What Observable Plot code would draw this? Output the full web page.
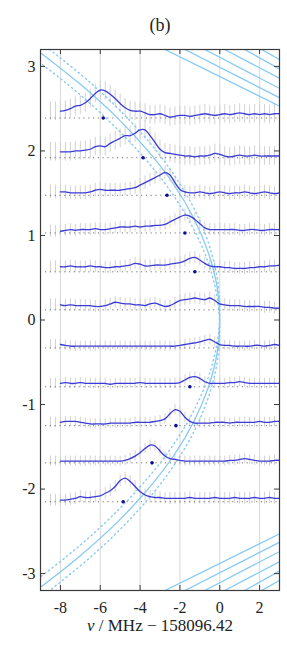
<!DOCTYPE html>
<html><head><meta charset="utf-8">
<script src="https://cdn.jsdelivr.net/npm/d3@7"></script>
<script src="https://cdn.jsdelivr.net/npm/@observablehq/plot@0.6"></script>
<style>body{margin:0;background:#fff} svg text{font-family:'Liberation Serif','DejaVu Serif',serif}</style>
</head><body><div id="chart"></div>
<script>
const title = "(b)";
const xLabel = "ν / MHz − 158096.42";
const xTicks = [-8, -6, -4, -2, 0, 2];
const yTicks = [-3, -2, -1, 0, 1, 2, 3];

const xGrid = [-8.5,-8.25,-8,-7.75,-7.5,-7.25,-7,-6.75,-6.5,-6.25,-6,-5.75,-5.5,-5.25,-5,-4.75,-4.5,-4.25,-4,-3.75,-3.5,-3.25,-3,-2.75,-2.5,-2.25,-2,-1.75,-1.5,-1.25,-1,-0.75,-0.5,-0.25,0,0.25,0.5,0.75,1,1.25,1.5,1.75,2,2.25,2.5,2.75,3];

const baselines = [2.39, 1.92, 1.475, 1.03, 0.57, 0.12, -0.33, -0.79, -1.25, -1.69, -2.15];
const errHalf = [0.11, 0.11, 0.08, 0.07, 0.07, 0.07, 0.06, 0.06, 0.06, 0.06, 0.07];

const trace1 = [0.08,0.08,0.08,0.09,0.11,0.14,0.15,0.18,0.23,0.29,0.33,0.32,0.28,0.23,0.17,0.12,0.09,0.08,0.08,0.06,0.04,0.04,0.05,0.03,0.01,0.02,0.03,0.03,0.02,0.03,0.04,0.05,0.04,0.03,0.04,0.05,0.04,0.05,0.06,0.05,0.04,0.05,0.04,0.05,0.04,0.05,0.05];
const trace2 = [0.07,0.07,0.07,0.07,0.07,0.08,0.08,0.09,0.1,0.13,0.14,0.13,0.17,0.2,0.23,0.26,0.26,0.29,0.33,0.33,0.26,0.18,0.1,0.06,0.05,0.04,0.03,0.02,0.02,0.01,0.02,0.02,0.03,0.05,0.04,0.02,0.01,0.02,0.03,0.02,0.02,0.03,0.02,0.02,0.02,0.02,0.02];
const trace3 = [0.04,0.04,0.04,0.04,0.03,0.03,0.03,0.03,0.04,0.06,0.07,0.06,0.06,0.06,0.06,0.07,0.08,0.09,0.12,0.15,0.18,0.21,0.24,0.27,0.24,0.15,0.07,0.04,0.03,0.03,0.04,0.03,0.02,0.03,0.04,0.03,0.02,0.03,0.03,0.04,0.03,0.02,0.03,0.04,0.03,0.02,0.03];
const trace4 = [0.02,0.02,0.02,0.03,0.04,0.03,0.04,0.04,0.04,0.05,0.04,0.04,0.05,0.06,0.07,0.07,0.07,0.08,0.07,0.08,0.08,0.09,0.09,0.1,0.13,0.16,0.19,0.21,0.2,0.16,0.11,0.06,0.04,0.04,0.04,0.04,0.04,0.04,0.03,0.03,0.04,0.04,0.03,0.03,0.04,0.04,0.04];
const trace5 = [0.06,0.06,0.06,0.06,0.07,0.06,0.06,0.06,0.07,0.06,0.06,0.05,0.05,0.06,0.06,0.07,0.08,0.1,0.09,0.07,0.07,0.08,0.08,0.08,0.09,0.1,0.11,0.13,0.16,0.17,0.14,0.1,0.07,0.06,0.06,0.05,0.05,0.04,0.04,0.04,0.05,0.05,0.06,0.06,0.07,0.07,0.08];
const trace6 = [0.06,0.06,0.06,0.05,0.06,0.05,0.05,0.05,0.05,0.04,0.04,0.05,0.07,0.09,0.08,0.07,0.07,0.06,0.06,0.05,0.07,0.08,0.06,0.04,0.05,0.08,0.11,0.12,0.13,0.14,0.13,0.12,0.14,0.11,0.07,0.06,0.05,0.05,0.05,0.04,0.04,0.04,0.04,0.03,0.03,0.02,0.02];
const trace7 = [0.04,0.04,0.04,0.03,0.02,0.02,0.02,0.02,0.02,0.02,0.02,0.02,0.02,0.02,0.02,0.02,0.02,0.02,0.02,0.02,0.02,0.02,0.02,0.02,0.02,0.02,0.03,0.04,0.05,0.06,0.07,0.09,0.1,0.07,0.04,0.03,0.03,0.02,0.02,0.02,0.02,0.03,0.03,0.02,0.03,0.04,0.03];
const trace8 = [0.04,0.04,0.04,0.05,0.04,0.04,0.05,0.04,0.04,0.04,0.04,0.04,0.03,0.04,0.04,0.04,0.04,0.04,0.05,0.04,0.04,0.04,0.04,0.04,0.04,0.04,0.05,0.08,0.11,0.12,0.1,0.06,0.04,0.04,0.04,0.04,0.05,0.05,0.06,0.05,0.04,0.04,0.04,0.04,0.04,0.04,0.04];
const trace9 = [0.04,0.04,0.04,0.05,0.05,0.05,0.04,0.03,0.02,0.02,0.02,0.02,0.03,0.03,0.03,0.03,0.03,0.04,0.04,0.04,0.04,0.05,0.06,0.08,0.14,0.19,0.17,0.1,0.05,0.03,0.03,0.03,0.03,0.04,0.04,0.04,0.03,0.04,0.04,0.04,0.04,0.04,0.05,0.04,0.04,0.05,0.05];
const trace10 = [0.02,0.02,0.02,0.02,0.02,0.02,0.02,0.02,0.02,0.02,0.02,0.02,0.02,0.02,0.02,0.03,0.05,0.08,0.12,0.17,0.21,0.2,0.14,0.08,0.05,0.04,0.03,0.02,0.02,0.02,0.02,0.02,0.02,0.02,0.02,0.02,0.03,0.03,0.04,0.05,0.04,0.03,0.02,0.02,0.02,0.03,0.03];
const trace11 = [0.02,0.02,0.02,0.02,0.03,0.04,0.06,0.05,0.05,0.06,0.07,0.1,0.13,0.18,0.25,0.28,0.24,0.18,0.12,0.08,0.06,0.05,0.05,0.04,0.04,0.04,0.04,0.04,0.05,0.04,0.04,0.04,0.04,0.05,0.04,0.04,0.04,0.05,0.04,0.04,0.04,0.05,0.04,0.04,0.05,0.04,0.04];

const peakX = [-5.85, -3.85, -2.65, -1.75, -1.25, -1.5, -2.2, -3.4, -4.85];
const peakY = [2.39, 1.92, 1.475, 1.03, 0.57, -0.79, -1.25, -1.69, -2.15];

const curveY = [3.3, 3.2, 2.8, 2.4, 2.0, 1.6, 1.2, 0.8, 0.4, 0, -0.4, -0.8, -1.2, -1.6, -2.0, -2.4, -2.8, -3.2, -3.3];
const curveX = [-9.8, -9.22, -7.06, -5.18, -3.6, -2.3, -1.3, -0.58, -0.14, 0, -0.14, -0.58, -1.3, -2.3, -3.6, -5.18, -7.06, -9.22, -9.8];
const dotAX = [-9.1, -8.54, -6.46, -4.68, -3.18, -1.97, -1.05, -0.42, -0.07, -0.01, -0.24, -0.77, -1.6, -2.7, -4.1, -5.76, -7.7, -9.95, -10.6];
const dotBX = [-10.6, -9.95, -7.7, -5.76, -4.1, -2.7, -1.6, -0.77, -0.24, -0.01, -0.07, -0.42, -1.05, -1.97, -3.18, -4.68, -6.46, -8.54, -9.1];

const hatchTopX = [-2.75, -1.75, -0.75, 0.25, 1.25, 2.1];
const hatchTopRightY = [2.53, 2.63, 2.74, 2.86, 2.97, 3.08];
const hatchBotX = [-2.75, -1.75, -0.75, 0.25, 1.25, 2.1];
const hatchBotRightY = [-2.53, -2.63, -2.74, -2.86, -2.97, -3.08];

const traces = [trace1, trace2, trace3, trace4, trace5, trace6, trace7, trace8, trace9, trace10, trace11];
const rows = [];
traces.forEach((tr, i) => tr.forEach((v, j) => {
  const y = baselines[i] + v;
  rows.push({t: i, x: xGrid[j], y, lo: y - errHalf[i], hi: y + errHalf[i]});
}));
const lineRows = rows.filter(d => d.x >= -8.1);
const curveSolid = curveY.map((y, i) => ({x: curveX[i], y}));
const curveA = curveY.map((y, i) => ({x: dotAX[i], y}));
const curveB = curveY.map((y, i) => ({x: dotBX[i], y}));
const hatchTop = hatchTopX.map((x, i) => ({x1: x, y1: 3.2, x2: 3, y2: hatchTopRightY[i]}));
const hatchBot = hatchBotX.map((x, i) => ({x1: x, y1: -3.2, x2: 3, y2: hatchBotRightY[i]}));
const peaks = peakX.map((x, i) => ({x, y: peakY[i]}));

const light = "#86c9f4";
const fmt = d => String(d);
const serif = "Liberation Serif";

const chart = Plot.plot({
  width: 287, height: 664,
  marginLeft: 40, marginRight: 8, marginTop: 49, marginBottom: 74,
  style: {fontFamily: "'Liberation Serif', serif", fontSize: "16px", color: "#222", background: "#fff"},
  x: {domain: [-9, 3], axis: null},
  y: {domain: [-3.2, 3.2], axis: null},
  marks: [
    Plot.gridX({ticks: xTicks, stroke: "#d8d8d8", strokeOpacity: 1, strokeWidth: 1}),
    Plot.ruleX(rows, {x: "x", y1: "lo", y2: "hi", stroke: "#d2d2d2", strokeWidth: 1}),
    Plot.ruleY(baselines, {y: d => d, insetLeft: 5, stroke: "#777", strokeWidth: 1, strokeDasharray: "1.2,3.6"}),
    Plot.line(curveA, {x: "x", y: "y", curve: "catmull-rom", stroke: light, strokeWidth: 1.4, strokeDasharray: "1.2,3.4", clip: true}),
    Plot.line(curveB, {x: "x", y: "y", curve: "catmull-rom", stroke: light, strokeWidth: 1.4, strokeDasharray: "1.2,3.4", clip: true}),
    Plot.line(curveSolid, {x: "x", y: "y", curve: "catmull-rom", stroke: light, strokeWidth: 1.3, clip: true}),
    Plot.link(hatchTop, {x1: "x1", y1: "y1", x2: "x2", y2: "y2", stroke: light, strokeWidth: 1.3, clip: true}),
    Plot.link(hatchBot, {x1: "x1", y1: "y1", x2: "x2", y2: "y2", stroke: light, strokeWidth: 1.3, clip: true}),
    Plot.line(lineRows, {x: "x", y: "y", z: "t", curve: "catmull-rom", stroke: "#3a3ad6", strokeWidth: 1.3}),
    Plot.dot(peaks, {x: "x", y: "y", r: 1.8, fill: "#0c0c9c", stroke: null}),
    Plot.frame({stroke: "#3a3a3a", strokeWidth: 1.2}),
    Plot.gridX({ticks: xTicks, stroke: "#3a3a3a", strokeOpacity: 1, insetTop: 536}),
    Plot.gridX({ticks: xTicks, stroke: "#3a3a3a", strokeOpacity: 1, insetBottom: 536}),
    Plot.gridY({ticks: yTicks, stroke: "#3a3a3a", strokeOpacity: 1, insetRight: 234}),
    Plot.gridY({ticks: yTicks, stroke: "#3a3a3a", strokeOpacity: 1, insetLeft: 234}),
    Plot.axisX({ticks: xTicks, tickSize: 0, tickPadding: 11, tickFormat: fmt, label: null, fontSize: 16, fontFamily: serif}),
    Plot.axisY({ticks: yTicks, tickSize: 0, tickPadding: 5, tickFormat: fmt, label: null, fontSize: 16, fontFamily: serif}),
    Plot.text([xLabel], {text: d => d, frameAnchor: "bottom", dy: 40, fontSize: 17, fontFamily: serif}),
    Plot.text([title], {text: d => d, frameAnchor: "top", dy: -31, fontSize: 18, fontFamily: serif})
  ]
});
document.getElementById("chart").appendChild(chart);
chart.querySelectorAll("text").forEach(el => {
  if (el.textContent === xLabel) {
    el.textContent = "";
    const ns = "http://www.w3.org/2000/svg";
    const a = document.createElementNS(ns, "tspan");
    a.setAttribute("font-style", "italic");
    a.textContent = "ν";
    const b = document.createElementNS(ns, "tspan");
    b.textContent = " / MHz − 158096.42";
    el.appendChild(a); el.appendChild(b);
  }
});
</script>
</body></html>
